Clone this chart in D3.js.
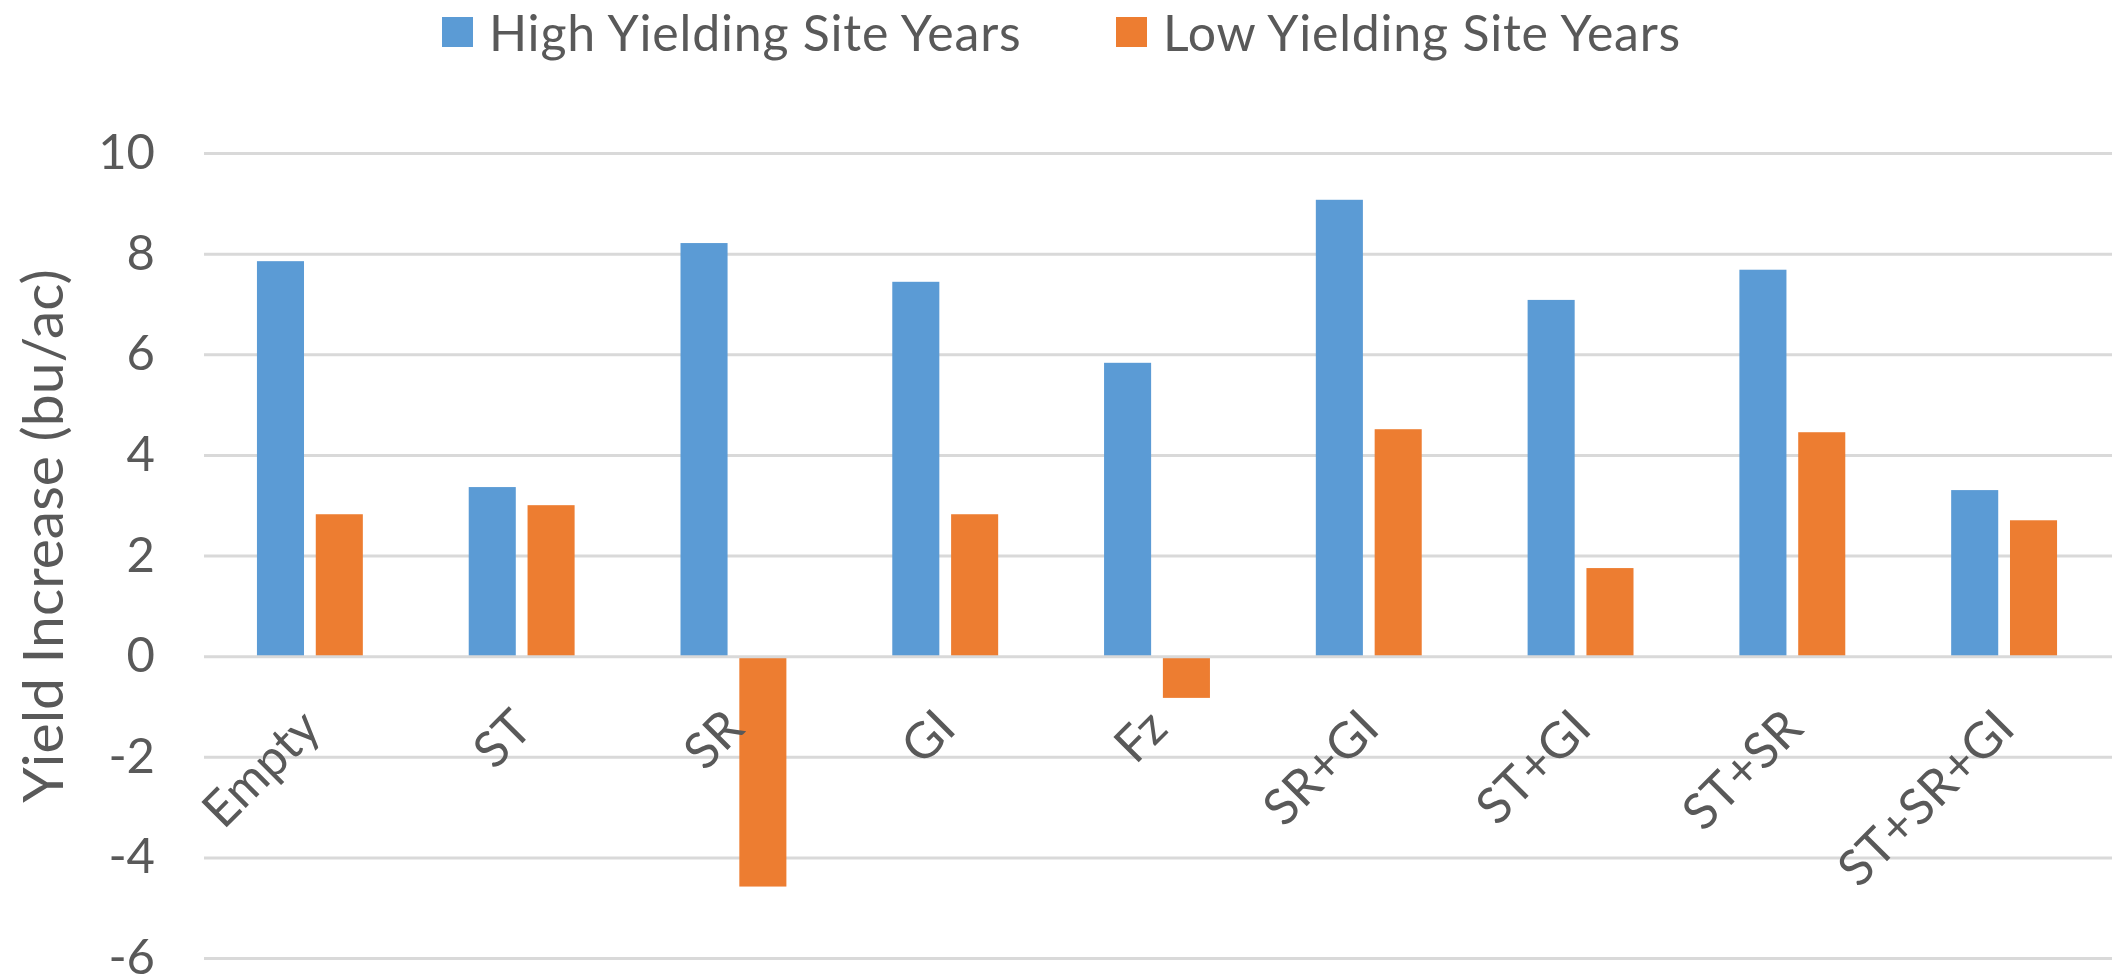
<!DOCTYPE html>
<html>
<head>
<meta charset="utf-8">
<script src="https://cdn.jsdelivr.net/npm/d3@7/dist/d3.min.js"></script>
<style>
  html, body { margin: 0; padding: 0; background: #ffffff; }
  svg { display: block; }
  text { font-family: Lato, "Open Sans", "Liberation Sans", sans-serif; fill: #595959; }
</style>
</head>
<body>
<svg id="chart" width="2112" height="978"></svg>
<script>
// Yield increase by seed treatment combination
const categories = ["Empty", "ST", "SR", "GI", "Fz", "SR+GI", "ST+GI", "ST+SR", "ST+SR+GI"];
const seriesNames = ["High Yielding Site Years", "Low Yielding Site Years"];
const highYield = [7.86, 3.37, 8.22, 7.45, 5.84, 9.08, 7.09, 7.69, 3.31];
const lowYield  = [2.83, 3.01, -4.57, 2.83, -0.82, 4.52, 1.76, 4.46, 2.71];
const yTicks = [-6, -4, -2, 0, 2, 4, 6, 8, 10];
const colors = ["#5b9bd5", "#ed7d31"];
const yTitle = "Yield Increase (bu/ac)";

const svg = d3.select("#chart");
const plot = { left: 204, right: 2110, top: 153.5, bottom: 958.5 };

const x = d3.scaleBand().domain(categories).range([plot.left, plot.right]).padding(0);
const groupWidth = x.bandwidth() * 0.5;
const x1 = d3.scaleBand().domain(seriesNames).range([0, groupWidth]).paddingInner(0.2).paddingOuter(0);
const y = d3.scaleLinear().domain([-6, 10]).range([plot.bottom, plot.top]);

const rows = categories.map((c, i) => ({ cat: c, values: [highYield[i], lowYield[i]] }));

// horizontal gridlines
svg.append("g")
  .selectAll("line")
  .data(yTicks.filter(t => t !== 0))
  .join("line")
  .attr("x1", plot.left).attr("x2", 2112)
  .attr("y1", d => y(d)).attr("y2", d => y(d))
  .attr("stroke", "#d9d9d9").attr("stroke-width", 3);

// y tick labels (plain hyphen for negatives)
const yAxis = d3.axisLeft(y).tickValues(yTicks).tickSize(0).tickPadding(0).tickFormat(d => String(d));
const yg = svg.append("g").attr("transform", `translate(155,0)`).call(yAxis);
yg.select(".domain").remove();
yg.selectAll("text")
  .attr("x", 0).attr("dy", null).attr("y", 15)
  .attr("text-anchor", "end")
  .style("font-family", "Lato, 'Open Sans', sans-serif")
  .style("font-size", "49px")
  .style("fill", "#595959");

// bars
const groups = svg.append("g")
  .selectAll("g")
  .data(rows)
  .join("g")
  .attr("transform", d => `translate(${x(d.cat) + (x.bandwidth() - groupWidth) / 2},0)`);

groups.selectAll("rect")
  .data(d => d.values.map((v, k) => ({ key: seriesNames[k], v, k })))
  .join("rect")
  .attr("x", d => x1(d.key))
  .attr("width", x1.bandwidth())
  .attr("y", d => Math.min(y(d.v), y(0)))
  .attr("height", d => Math.abs(y(d.v) - y(0)))
  .attr("fill", d => colors[d.k]);

// zero axis line over the bars
svg.append("line")
  .attr("x1", plot.left).attr("x2", 2112)
  .attr("y1", y(0)).attr("y2", y(0))
  .attr("stroke", "#d9d9d9").attr("stroke-width", 3);

// category labels, rotated
svg.append("g")
  .selectAll("text")
  .data(categories)
  .join("text")
  .attr("transform", d => `translate(${x(d) + x.bandwidth() / 2 + 13},731) rotate(-45)`)
  .attr("text-anchor", "end")
  .style("font-size", "50px")
  .text(d => d);

// y axis title
svg.append("text")
  .attr("transform", `translate(63,${(plot.top + plot.bottom) / 2 - 20}) rotate(-90)`)
  .attr("text-anchor", "middle")
  .style("font-size", "57px")
  .text(yTitle);

// legend
const legendPos = [442, 1116];
const legend = svg.append("g")
  .selectAll("g")
  .data(seriesNames)
  .join("g")
  .attr("transform", (d, i) => `translate(${legendPos[i]},0)`);
legend.append("rect")
  .attr("x", 0).attr("y", 17).attr("width", 31).attr("height", 30)
  .attr("fill", (d, i) => colors[i]);
legend.append("text")
  .attr("x", 47).attr("y", 50.5)
  .style("font-size", "50px")
  .style("letter-spacing", "0.8px")
  .text(d => d);
</script>
</body>
</html>
